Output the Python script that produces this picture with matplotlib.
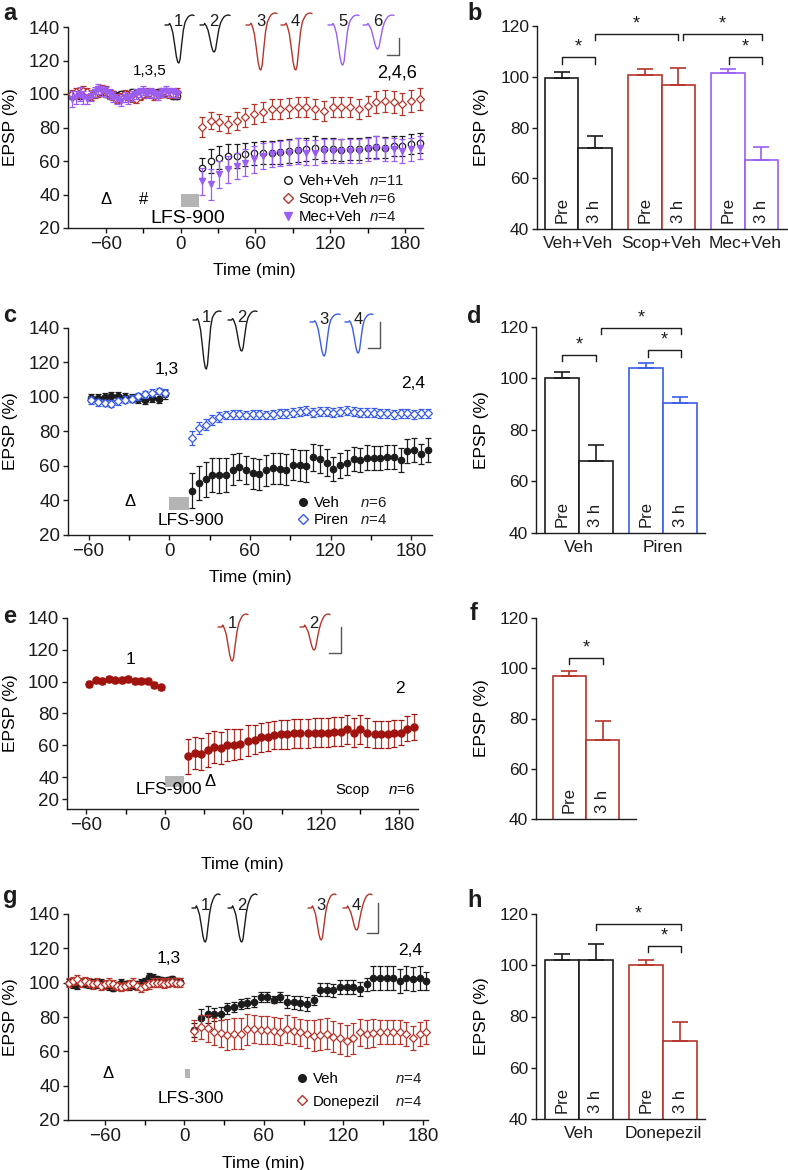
import numpy as np
import matplotlib
matplotlib.use("Agg")
import matplotlib.pyplot as plt
from matplotlib.lines import Line2D
from matplotlib.patches import Rectangle

plt.rcParams["font.family"] = ["Liberation Sans", "DejaVu Sans"]
plt.rcParams["mathtext.fontset"] = "custom"
plt.rcParams["mathtext.it"] = "Liberation Sans:italic"
plt.rcParams["mathtext.rm"] = "Liberation Sans"

# ---------------- data ----------------
# panel a
a_pre_t = [-87, -84, -81, -78, -75, -72, -69, -66, -63, -60, -57, -54, -51, -48, -45,
           -42, -39, -36, -33, -30, -27, -24, -21, -18, -15, -12, -9, -6, -3]
a_post_t = [17, 24, 31, 38, 45, 52, 59, 66, 73, 80, 87, 94, 101, 108, 115, 122, 129,
            136, 143, 150, 157, 164, 171, 178, 185, 192]
a_veh_pre = [99, 100, 99, 101, 100, 100, 101, 102, 101, 100, 99, 100, 99, 100, 100,
             99, 101, 100, 99, 100, 101, 100, 100, 101, 100, 101, 100, 99, 99]
a_veh_post = [56, 60, 62, 63, 63, 64, 64.5, 65, 65, 65.5, 66, 66.5, 67, 68, 67, 67,
              66.5, 67, 67, 68, 68.5, 68, 69, 69, 70, 71]
a_veh_post_err = [6, 7, 7, 7, 7, 7, 7, 7, 7, 7, 7, 7, 7, 7, 7, 6.5, 6.5, 6.5, 6.5,
                  6.5, 6.5, 6.5, 6, 6, 6, 6]
a_scop_pre = [100, 101, 100, 102, 101, 99, 100, 101, 103, 102, 100, 99, 97, 98, 100,
              99, 98, 97, 99, 100, 101, 100, 99, 100, 101, 101, 100, 100, 101]
a_scop_post = [80.5, 84, 83, 82, 84, 86, 88, 89, 91, 91, 91.5, 92, 92, 91, 90, 92,
               92, 92, 91, 93, 95, 96, 95, 94, 96, 97]
a_scop_post_err = [6, 5, 5, 5, 5.5, 5.5, 6, 6, 6, 6, 6, 6, 6, 6, 6, 6, 6, 6, 6, 6,
                   6.5, 6.5, 6.5, 6.5, 6.5, 6.5]
a_mec_pre = [97, 98, 100, 98, 97, 99, 101, 103, 102, 101, 100, 98, 97, 96, 98, 97,
             99, 100, 101, 102, 100, 101, 100, 99, 101, 102, 101, 101, 100]
a_mec_pre_err = [5, 4, 4, 4, 3, 3, 3, 3, 3, 3, 3, 3, 3, 3, 3, 3, 3, 3, 2.5, 2.5, 2.5,
                 2.5, 2.5, 2.5, 2.5, 2.5, 2.5, 2.5, 2.5]
a_mec_post = [48, 46, 52, 55, 57, 59, 61, 63, 64, 64.5, 65, 66, 65, 65, 66, 66, 66,
              66, 66, 67, 68, 67, 67, 66, 67, 68]
a_mec_post_err = [8, 9, 8, 8, 8, 8, 8, 7.5, 7.5, 7.5, 7.5, 7.5, 7.5, 7.5, 7, 7, 7, 7,
                  7, 7, 7, 7, 7, 7, 7, 7]

# panel b
b_groups = ["Veh+Veh", "Scop+Veh", "Mec+Veh"]
b_means = [99.7, 72.0, 100.8, 96.6, 101.4, 67.0]
b_errs = [2.1, 4.6, 2.4, 6.7, 1.8, 5.3]

# panel c
c_pre_t = [-58, -53, -48, -43, -38, -33, -28, -23, -18, -13, -8, -3]
c_post_t = [17, 22, 27, 32, 37, 42, 47, 52, 57, 62, 67, 72, 77, 82, 87, 92, 97, 102,
            107, 112, 117, 122, 127, 132, 137, 142, 147, 152, 157, 162, 167, 172, 177,
            182, 187, 192]
c_veh_pre = [99.5, 99.5, 100, 100.5, 100.5, 100, 99.5, 99, 98.5, 99.5, 99, 101.5]
c_veh_post = [45.7, 50, 52.3, 54.8, 54.5, 54.8, 57.7, 59.7, 57.7, 55.8, 55.2, 57.4,
              58.7, 58.3, 57.7, 60.6, 60.3, 60, 65, 64, 62, 58.3, 60.3, 62, 64, 63.5,
              64.9, 64.5, 64.5, 65, 65, 63.5, 68.7, 69.3, 67, 69.3]
c_veh_post_err = [10, 10, 10, 10, 10, 10, 9, 8, 8, 9, 9, 9, 9, 9, 9, 9, 9, 9, 8, 8,
                  8, 7, 7, 7, 7, 7, 7, 7, 7, 7, 7, 7, 7, 7, 6, 7]
c_pir_pre = [98, 97, 96.5, 96, 97.5, 98.5, 99, 100.5, 101.5, 102.5, 103.5, 102.5]
c_pir_post = [76, 82, 84, 86.5, 88.5, 89.5, 90, 90, 89.5, 90, 90, 89.5, 90, 90.5,
              90.5, 91, 91.5, 92, 91, 91.5, 91.5, 91, 91.5, 92, 91.5, 91, 91, 91,
              90.5, 90.5, 90, 90.5, 90.5, 90, 90.5, 90.5]
c_pir_post_err = [4, 3.5, 3, 3, 3, 2.5, 2.5, 2.5, 2.5, 2.5, 2.5, 2.5, 2.5, 2.5, 2.5,
                  2.5, 2.5, 2.5, 2.5, 2.5, 2.5, 2.5, 2.5, 2.5, 2.5, 2.5, 2.5, 2.5,
                  2.5, 2.5, 2.5, 2.5, 2.5, 2.5, 2.5, 2.5]

# panel d
d_groups = ["Veh", "Piren"]
d_means = [100.1, 68.0, 103.9, 90.4]
d_errs = [2.5, 6.3, 2.1, 2.6]

# panel e
e_pre_t = [-58, -53, -48, -43, -38, -33, -28, -23, -18, -13, -8, -3]
e_post_t = [18, 23, 28, 33, 38, 43, 48, 53, 58, 64, 69, 74, 79, 84, 89, 94, 99, 104,
            110, 115, 120, 125, 130, 135, 140, 145, 150, 155, 161, 166, 171, 176,
            181, 186, 191]
e_scop_pre = [98.6, 100.8, 100.4, 101.8, 100.8, 101.2, 101.6, 100.6, 100.4, 100.4,
              98, 96.4]
e_scop_post = [53, 55, 54.5, 57, 59, 58.5, 60, 60.5, 61, 63, 63.5, 65, 65.5, 66.5,
               67, 67, 67.5, 67.5, 67.5, 68, 68, 68, 68.5, 68.5, 70, 68, 70, 68, 67,
               67, 67, 67.5, 68, 70.5, 71.5]
e_scop_post_err = [11, 10, 10, 10.5, 10, 10, 10, 10, 9.5, 9.5, 9, 9, 9, 9, 9, 9, 9,
                   9, 9, 9, 9, 9, 9, 9, 9, 9, 9, 9, 8.5, 8.5, 8.5, 8.5, 8, 8, 8]
e_ticks = [20, 40, 60, 80, 100, 120, 140]

# panel f
f_means = [97.1, 71.5]
f_errs = [1.8, 7.5]

# panel g
g_pre_t = a_pre_t
g_post_t = [7.5, 12.5, 17.5, 22.5, 27.5, 32.5, 37.5, 42.5, 47.5, 52.5, 57.5, 62.5,
            67.5, 72.5, 77.5, 82.5, 87.5, 92.5, 97.5, 102.5, 107.5, 112.5, 117.5,
            122.5, 127.5, 132.5, 137.5, 142.5, 147.5, 152.5, 157.5, 162.5, 167.5,
            172.5, 177.5, 182.5]
g_veh_pre = [100, 99, 98.5, 100, 99.5, 99, 100, 99, 100, 99, 98, 97, 98.5, 100, 99,
             98, 98.5, 99, 100, 101, 103.5, 103, 102, 101.5, 101, 101.5, 102, 101,
             100.5]
g_veh_post = [72.5, 79.5, 81.5, 81.5, 82, 85, 86, 87.5, 88, 89, 91.5, 91.5, 90, 91.5,
              89, 88.5, 88, 87.5, 90, 96, 96, 95.5, 97.5, 97.5, 97.5, 96.5, 99, 102.5,
              102.5, 102.5, 102.5, 101, 102.5, 102, 102.5, 101]
g_veh_post_err = [4, 5, 5, 4, 4, 3, 3, 3, 3, 3, 3, 3, 2, 3, 4, 4, 4, 4, 3, 4, 4, 4,
                  4, 4, 4, 4, 4, 7, 7, 7, 7, 7, 7, 7, 7, 5]
g_don_pre = [100, 101, 102, 100, 101, 100, 99, 100, 98, 99, 100, 99, 98, 97.5, 98,
             99, 100, 98, 97, 98, 99, 100, 100, 100, 99.5, 100, 100.5, 100, 100]
g_don_post = [72, 74.4, 73.4, 71.5, 70.5, 69.6, 70.2, 70.2, 72.9, 72.9, 72.5, 72.5,
              72, 71.5, 72.9, 72, 71, 70.2, 69.2, 69.6, 70.2, 68.6, 67.6, 66.3, 67.6,
              71, 70.2, 70.6, 71, 71, 71.5, 71.5, 70, 68, 70, 71.5]
g_don_post_err = [6, 7, 8, 8, 8, 9, 9, 9, 9, 8, 8, 8, 8, 8, 8, 8, 8, 8, 9, 9, 9, 9,
                  9, 9, 9, 8, 8, 8, 7, 7, 7, 7, 7, 7, 7, 7]

# panel h
h_groups = ["Veh", "Donepezil"]
h_means = [101.9, 102.0, 100.0, 70.5]
h_errs = [2.4, 6.4, 2.2, 7.2]

# EPSP trace template (fraction of width, fraction of dip/overshoot)
trace_x = [0, .12, .16, .18, .21, .27, .33, .39, .44, .48, .52, .57, .63, .69, .75,
           .81, .88, .95, 1.0]
trace_y = [0, 0, 0.15, 0.05, -.04, -.2, -.5, -.82, -.98, -1.0, -.9, -.55, -.15, .25,
           .6, .85, .97, 1.0, .95]

# ---------------- styling ----------------
BLACK = "#1c1c1c"
RED = "#b5352b"
DRED = "#a01410"
PURPLE = "#9b5ef2"
BLUE = "#3a5de6"
GREY = "#b4b4b4"
FS = 12.5
TFS = 13.5

W, H = 788, 1170
fig = plt.figure(figsize=(W / 100, H / 100), dpi=100)


def px_axes(l, r, t, b, tfs):
    ax = fig.add_axes([l / W, 1 - b / H, (r - l) / W, (b - t) / H])
    ax.spines[["top", "right"]].set_visible(False)
    for s in ("left", "bottom"):
        ax.spines[s].set_linewidth(1.0)
        ax.spines[s].set_color(BLACK)
    ax.tick_params(direction="out", length=3.6, width=1.0, labelsize=tfs, pad=2,
                   colors=BLACK)
    ax.tick_params(which="minor", direction="out", length=3.6, width=1.0)
    ax.patch.set_alpha(0)
    return ax


def time_axes(l, r, t, b, xlim, ylim=(20, 140)):
    ax = px_axes(l, r, t, b, TFS)
    ax.set_xlim(*xlim)
    ax.set_ylim(*ylim)
    ax.set_yticks(range(20, 141, 20))
    ax.set_xticks([-60, 0, 60, 120, 180])
    ax.set_xticklabels(["\u221260", "0", "60", "120", "180"])
    ax.set_xticks([-30, 30, 90, 150], minor=True)
    ax.set_ylabel("EPSP (%)", fontsize=FS)
    ax.set_xlabel("Time (min)", fontsize=FS)
    ax.yaxis.set_label_coords((18 - l) / (r - l), 0.5)
    return ax


def series(ax, t, y, e, color, marker, filled, ms=4.6, z=3):
    mfc = color if filled else "white"
    ax.errorbar(t, y, yerr=e, fmt=marker, color=color, mfc=mfc, mec=color, ms=ms,
                mew=0.9, elinewidth=0.9, capsize=2.0, capthick=0.9, zorder=z,
                clip_on=False)


def bar_axes(l, r, t, b, xlim, pos, means, errs, colors, groups, centers):
    ax = px_axes(l, r, t, b, FS)
    ax.set_xlim(*xlim)
    ax.set_ylim(40, 120)
    ax.set_yticks(range(40, 121, 20))
    ax.bar(pos, means, width=1.0, color="white", edgecolor=colors, linewidth=1.2,
           zorder=2)
    for p, m, e, c, lab in zip(pos, means, errs, colors, ["Pre", "3 h"] * 4):
        ax.errorbar([p], [m], yerr=[[0], [e]], color=c, elinewidth=1.2, capsize=5.5,
                    capthick=1.2, zorder=3)
        ax.text(p, 42.3, lab, rotation=90, ha="center", va="bottom", fontsize=12,
                color=BLACK, zorder=4)
    ax.set_xticks(centers)
    ax.set_xticklabels(groups, fontsize=FS)
    ax.tick_params(axis="x", length=0, pad=5)
    ax.set_ylabel("EPSP (%)", fontsize=FS)
    ax.yaxis.set_label_coords((489 - l) / (r - l), 0.5)
    return ax


def bracket(ax, x1, x2, y, drop=2.4):
    ax.plot([x1, x1, x2, x2], [y - drop, y, y, y - drop], color=BLACK, lw=1.0,
            clip_on=False)
    ax.text((x1 + x2) / 2, y + 0.6, "*", ha="center", va="bottom", fontsize=13,
            color=BLACK)


def gray_block(ax, x0, x1, y0, y1):
    ax.add_patch(Rectangle((x0, y0), x1 - x0, y1 - y0, facecolor=GREY,
                           edgecolor="none", zorder=1, clip_on=False))


def legend_with_n(ax, handles, labels, ns, left_px, top_px, n_px, spacing):
    leg = ax.legend(handles, labels, loc="upper left",
                    bbox_to_anchor=(left_px / W, 1 - top_px / H),
                    bbox_transform=fig.transFigure, frameon=False, fontsize=10.8,
                    handlelength=0.6, handletextpad=0.45, labelspacing=spacing,
                    borderpad=0, borderaxespad=0)
    return (leg, ns, n_px)


legends = []

# ---- a ----
ax = time_axes(68, 423, 27, 228, (-90.4, 194.5))
series(ax, a_pre_t + a_post_t, a_veh_pre + a_veh_post,
       [2] * len(a_pre_t) + a_veh_post_err, BLACK, "o", False, z=3)
series(ax, a_pre_t + a_post_t, a_scop_pre + a_scop_post,
       [2.5] * len(a_pre_t) + a_scop_post_err, RED, "D", False, ms=4.0, z=4)
series(ax, a_pre_t + a_post_t, a_mec_pre + a_mec_post,
       a_mec_pre_err + a_mec_post_err, PURPLE, "v", True, z=5)
gray_block(ax, 0, 15, 32.5, 40.5)
ax.text(6, 25.5, "LFS-900", ha="center", va="center", fontsize=14)
ax.text(-60, 37, "\u0394", ha="center", va="center", fontsize=12)
ax.text(-30, 37, "#", ha="center", va="center", fontsize=12)
ax.text(-25, 113.5, "1,3,5", ha="center", va="center", fontsize=11)
ax.text(174, 112.5, "2,4,6", ha="center", va="center", fontsize=13)
ax.xaxis.set_label_coords((254 - 68) / 355, -0.175)
h_a = [Line2D([], [], ls="", marker="o", mfc="white", mec=BLACK, ms=5.5),
       Line2D([], [], ls="", marker="D", mfc="white", mec=RED, ms=4.6),
       Line2D([], [], ls="", marker="v", mfc=PURPLE, mec=PURPLE, ms=5.5)]
legends.append(legend_with_n(ax, h_a, ["Veh+Veh", "Scop+Veh", "Mec+Veh"],
                             ["$n$=11", "$n$=6", "$n$=4"], 283, 174, 369, 0.28))

# ---- b ----
ax = bar_axes(537, 787, 26, 229, (-0.74, 6.77), [0, 1, 2.5, 3.5, 5, 6], b_means,
              b_errs, [BLACK, BLACK, RED, RED, PURPLE, PURPLE], b_groups,
              [0.5, 3.0, 5.5])
bracket(ax, 0, 1, 107.6)
bracket(ax, 1, 3.5, 116.7)
bracket(ax, 3.65, 6.02, 116.7)
bracket(ax, 5.02, 6.02, 107.6)

# ---- c ----
ax = time_axes(68, 432, 328, 535, (-75.3, 195.3))
series(ax, c_pre_t + c_post_t, c_veh_pre + c_veh_post,
       [2.5] * len(c_pre_t) + c_veh_post_err, BLACK, "o", True, z=3)
series(ax, c_pre_t + c_post_t, c_pir_pre + c_pir_post,
       [2] * len(c_pre_t) + c_pir_post_err, BLUE, "D", False, ms=4.2, z=4)
gray_block(ax, 0, 14.5, 34.5, 42)
ax.text(16, 28.5, "LFS-900", ha="center", va="center", fontsize=FS)
ax.text(-29, 39.5, "\u0394", ha="center", va="center", fontsize=12)
ax.text(-2, 116, "1,3", ha="center", va="center", fontsize=FS)
ax.text(181, 108, "2,4", ha="center", va="center", fontsize=FS)
ax.xaxis.set_label_coords(0.5, -0.17)
h_c = [Line2D([], [], ls="", marker="o", mfc=BLACK, mec=BLACK, ms=5.5),
       Line2D([], [], ls="", marker="D", mfc="white", mec=BLUE, ms=4.6)]
legends.append(legend_with_n(ax, h_c, ["Veh", "Piren"], ["$n$=6", "$n$=4"],
                             298, 496, 360, 0.22))

# ---- d ----
ax = bar_axes(536, 705, 327, 533, (-0.77, 4.24), [0, 1, 2.5, 3.5], d_means, d_errs,
              [BLACK, BLACK, BLUE, BLUE], d_groups, [0.5, 3.0])
bracket(ax, 0, 1.01, 109.1)
bracket(ax, 1.16, 3.53, 119.7)
bracket(ax, 2.54, 3.53, 110.9)

# ---- e ---- (bottom of this panel is clipped in the source: axis ends near 26)
ax = time_axes(67, 418, 618, 809, (-74.9, 194.2), ylim=(26.1, 140))
ax.set_yticks([26.1] + e_ticks[1:])
ax.set_yticklabels([str(v) for v in e_ticks])
series(ax, e_pre_t + e_post_t, e_scop_pre + e_scop_post,
       [1.8] * len(e_pre_t) + e_scop_post_err, RED, "o", True, ms=5.2, z=3)
for line in ax.lines:
    line.set_markerfacecolor(DRED)
    line.set_markeredgecolor(DRED)
gray_block(ax, 0.5, 15, 34, 40.6)
ax.text(3, 27.3, "LFS-900", ha="center", va="bottom", fontsize=FS)
ax.text(35, 37.5, "\u0394", ha="center", va="center", fontsize=12)
ax.text(-26, 114, "1", ha="center", va="center", fontsize=FS)
ax.text(180, 95.5, "2", ha="center", va="center", fontsize=FS)
ax.text(131, 27.3, "Scop", ha="left", va="bottom", fontsize=10.8)
ax.text(171, 27.3, "$n$=6", ha="left", va="bottom", fontsize=10.8)
ax.xaxis.set_label_coords((242 - 67) / 351, -0.25)

# ---- f ----
ax = bar_axes(536, 636, 618, 819, (-1.0, 2.0), [0, 1], f_means, f_errs, [RED, RED],
              [], [])
bracket(ax, 0, 1, 104.2)

# ---- g ----
ax = time_axes(68, 428, 914, 1120, (-87.8, 183.8))
series(ax, g_pre_t + g_post_t, g_veh_pre + g_veh_post,
       [2] * len(g_pre_t) + g_veh_post_err, BLACK, "o", True, z=3)
series(ax, g_pre_t + g_post_t, g_don_pre + g_don_post,
       [2.5] * len(g_pre_t) + g_don_post_err, RED, "D", False, ms=4.0, z=4)
gray_block(ax, 0.5, 4.5, 44.3, 49.5)
ax.text(5, 32.6, "LFS-300", ha="center", va="center", fontsize=FS)
ax.text(-57.5, 47, "\u0394", ha="center", va="center", fontsize=12)
ax.text(-11.5, 114.3, "1,3", ha="center", va="center", fontsize=FS)
ax.text(170, 119, "2,4", ha="center", va="center", fontsize=FS)
ax.xaxis.set_label_coords((263 - 68) / 360, -0.175)
h_g = [Line2D([], [], ls="", marker="o", mfc=BLACK, mec=BLACK, ms=5.5),
       Line2D([], [], ls="", marker="D", mfc="white", mec=RED, ms=4.6)]
legends.append(legend_with_n(ax, h_g, ["Veh", "Donepezil"], ["$n$=4", "$n$=4"],
                             297, 1072, 395, 0.58))

# ---- h ----
ax = bar_axes(536, 705, 914, 1119, (-0.77, 4.24), [0, 1, 2.5, 3.5], h_means, h_errs,
              [BLACK, BLACK, RED, RED], h_groups, [0.5, 3.0])
bracket(ax, 1.02, 3.53, 116.1)
bracket(ax, 2.54, 3.53, 107.5)

# ---------------- overlay: traces, scale bars, panel letters ----------------
ov = fig.add_axes([0, 0, 1, 1])
ov.set_xlim(0, W)
ov.set_ylim(H, 0)
ov.axis("off")

traces = [  # x0, width, baseline, dip depth, overshoot, colour, label
    (165, 29, 25, 38, 10, BLACK, "1"), (200, 30, 25, 27, 10, BLACK, "2"),
    (246, 31, 25, 45, 12, RED, "3"), (281, 31, 25, 45, 12, RED, "4"),
    (328, 31, 25, 40, 10, PURPLE, "5"), (363, 31, 25, 24, 10, PURPLE, "6"),
    (193, 28, 320, 49, 9, BLACK, "1"), (228, 29, 320, 31, 9, BLACK, "2"),
    (310, 30, 322, 34, 8, BLUE, "3"), (345, 28, 322, 31, 8, BLUE, "4"),
    (218, 30, 627, 34, 13, RED, "1"), (300, 30, 627, 23, 13, RED, "2"),
    (192, 28, 908, 34, 14, BLACK, "1"), (228, 29, 908, 34, 14, BLACK, "2"),
    (308, 28, 908, 32, 14, RED, "3"), (343, 29, 908, 22, 14, RED, "4"),
]
tx = np.array(trace_x)
ty = np.array(trace_y)
for x0, w, base, depth, over, col, lab in traces:
    yy = base - np.where(ty < 0, ty * depth, ty * over)
    ov.plot(x0 + tx * w, yy, color=col, lw=1.0, solid_capstyle="round")
    ov.text(x0 + 0.47 * w, base - 3, lab, ha="center", va="center", fontsize=12,
            color=BLACK)

scale_bars = [(387, 399, 38, 55), (368, 380, 322, 348), (329, 341, 627, 653),
              (367, 378, 903, 933)]
for xl, xr, yt, yb in scale_bars:
    ov.plot([xl, xr, xr], [yb, yb, yt], color="#555555", lw=1.0)

for lab, x, y in [("a", 3, 20), ("b", 467, 20), ("c", 3, 322), ("d", 467, 323),
                  ("e", 3, 623), ("f", 470, 620), ("g", 3, 903), ("h", 467, 907)]:
    ov.text(x, y, lab, ha="left", va="baseline", fontsize=17, fontweight="bold",
            color=BLACK)

# n= column aligned to legend rows
fig.canvas.draw()
for leg, ns, n_px in legends:
    for txt, n in zip(leg.get_texts(), ns):
        bb = txt.get_window_extent()
        yc = (bb.y0 + bb.y1) / 2
        fig.text(n_px / W, yc / fig.bbox.height, n, ha="left", va="center",
                 fontsize=10.8, color=BLACK)

fig.savefig("out.png", dpi=100)
